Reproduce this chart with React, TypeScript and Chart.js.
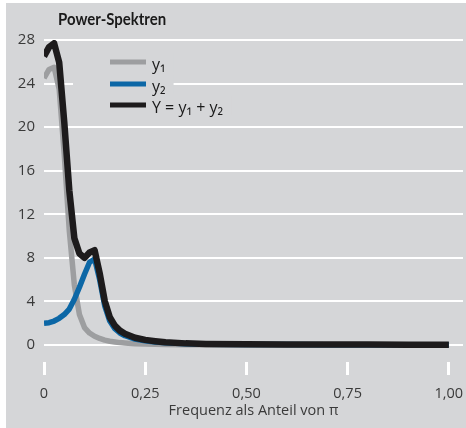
import React, { useEffect, useRef } from "react";
import { Chart, registerables } from "chart.js";

Chart.register(...registerables);

const freq = [0, 0.0125, 0.025, 0.0375, 0.05, 0.0625, 0.075, 0.0875, 0.1, 0.1125, 0.125, 0.1375, 0.15, 0.1625, 0.175, 0.1875, 0.2, 0.225, 0.25, 0.275, 0.3, 0.35, 0.4, 0.5, 0.6, 0.7, 0.8, 0.9, 1.0];
const y1 = [24.5, 25.3, 25.5, 23.5, 17.5, 10.5, 5.5, 2.8, 1.6, 1.1, 0.8, 0.6, 0.45, 0.35, 0.28, 0.22, 0.18, 0.12, 0.09, 0.07, 0.05, 0.03, 0.02, 0.01, 0.01, 0.01, 0.01, 0.01, 0.01];
const y2 = [2.0, 2.05, 2.2, 2.45, 2.8, 3.3, 4.2, 5.3, 6.5, 7.6, 7.9, 6.0, 3.6, 2.2, 1.5, 1.1, 0.85, 0.55, 0.38, 0.28, 0.2, 0.12, 0.08, 0.05, 0.04, 0.03, 0.03, 0.02, 0.02];
const ySum = [26.5, 27.35, 27.7, 25.95, 20.5, 14.2, 9.8, 8.4, 8.0, 8.5, 8.7, 6.6, 4.05, 2.55, 1.78, 1.32, 1.03, 0.67, 0.47, 0.35, 0.25, 0.15, 0.1, 0.06, 0.05, 0.04, 0.04, 0.03, 0.03];

const seriesLabels = ["y\u2081", "y\u2082", "Y = y\u2081 + y\u2082"];
const yTicks = [0, 4, 8, 12, 16, 20, 24, 28];
const xTicks = [0, 0.25, 0.5, 0.75, 1.0];
const xTickLabels = ["0", "0,25", "0,50", "0,75", "1,00"];
const chartTitle = "Power-Spektren";
const xTitle = "Frequenz als Anteil von \u03c0";

const FONT = "'Open Sans', 'Noto Sans', sans-serif";
const BG = "#d5d6d8";
const colors = ["#9d9ea0", "#0c67a6", "#1d1b1c"];
const widths = [5.5, 5.5, 6.5];
const drawOrder = [2, 1, 0];

const titleLegendPlugin = {
  id: "titleLegend",
  beforeDatasetsDraw(chart: any) {
    const { ctx, chartArea } = chart;
    const left = chartArea.left;
    const top = chartArea.top;
    ctx.save();
    ctx.font = `16px ${FONT}`;
    const rows = [22, 44, 65];
    seriesLabels.forEach((lab, i) => {
      const y = top + rows[i];
      const tw = ctx.measureText(lab).width;
      ctx.fillStyle = BG;
      ctx.fillRect(left + 29, y - 9, 108 - 29 + tw + 8, 19);
      ctx.strokeStyle = colors[i];
      ctx.lineWidth = 5;
      ctx.lineCap = "butt";
      ctx.beginPath();
      ctx.moveTo(left + 66, y);
      ctx.lineTo(left + 102, y);
      ctx.stroke();
      ctx.fillStyle = "#1a1a1a";
      ctx.textBaseline = "middle";
      ctx.textAlign = "left";
      ctx.fillText(lab, left + 108, y + 3);
    });
    ctx.restore();
  },
  afterDraw(chart: any) {
    const { ctx, chartArea } = chart;
    ctx.save();
    ctx.font = `bold 17px Lato, ${FONT}`;
    ctx.translate(chartArea.left + 14, 17);
    ctx.scale(0.88, 1);
    ctx.fillStyle = "#1a1a1a";
    ctx.textBaseline = "middle";
    ctx.textAlign = "left";
    ctx.fillText(chartTitle, 0, 0);
    ctx.restore();
  },
};

export default function App() {
  const ref = useRef<HTMLCanvasElement>(null);
  useEffect(() => {
    document.body.style.margin = "0";
    const datasets = [y1, y2, ySum].map((arr, i) => ({
      label: seriesLabels[i],
      data: arr.map((v, j) => ({ x: freq[j], y: v })),
      borderColor: colors[i],
      backgroundColor: colors[i],
      borderWidth: widths[i],
      order: drawOrder[i],
      pointRadius: 0,
      tension: 0,
      borderJoinStyle: "round" as const,
      borderCapStyle: "butt" as const,
      fill: false,
    }));
    const chart = new Chart(ref.current!, {
      type: "line",
      data: { datasets },
      plugins: [titleLegendPlugin],
      options: {
        animation: false,
        responsive: false,
        maintainAspectRatio: false,
        layout: { padding: { top: 37, right: 3, left: 0, bottom: 0 } },
        plugins: { legend: { display: false }, tooltip: { enabled: false }, title: { display: false } },
        scales: {
          x: {
            type: "linear",
            min: 0,
            max: 1.035,
            afterBuildTicks: (s: any) => { s.ticks = xTicks.map((v) => ({ value: v })); },
            afterFit: (s: any) => { s.height = 66; s.paddingLeft = 0; s.paddingRight = 0; },
            border: { display: false },
            grid: { drawOnChartArea: false, drawTicks: true, tickLength: 13, color: "#ffffff", lineWidth: 3 },
            ticks: {
              autoSkip: false,
              maxRotation: 0,
              padding: 10,
              color: "#3a3a3a",
              font: { family: FONT, size: 14.5 },
              callback: (v: any) => { const k = xTicks.indexOf(Number(v)); return k >= 0 ? xTickLabels[k] : ""; },
            },
            title: { display: true, text: xTitle, color: "#3a3a3a", font: { family: FONT, size: 14.5 }, padding: { top: 0, bottom: 8 } },
          },
          y: {
            type: "linear",
            min: -1.56,
            max: 28,
            afterBuildTicks: (s: any) => { s.ticks = yTicks.map((v) => ({ value: v })); },
            afterFit: (s: any) => { s.width = 38; s.paddingTop = 0; s.paddingBottom = 0; },
            border: { display: false },
            grid: { drawTicks: false, color: "#ffffff", lineWidth: 2 },
            ticks: { padding: 9, color: "#3a3a3a", font: { family: FONT, size: 15 } },
          },
        },
      },
    });
    return () => chart.destroy();
  }, []);
  return (
    <div style={{ position: "relative", width: 466, height: 428, background: "#ffffff", overflow: "hidden" }}>
      <div style={{ position: "absolute", left: 6, top: 3, width: 460, height: 425, background: BG }}>
        <canvas ref={ref} width={460} height={425} style={{ display: "block" }} />
      </div>
    </div>
  );
}
